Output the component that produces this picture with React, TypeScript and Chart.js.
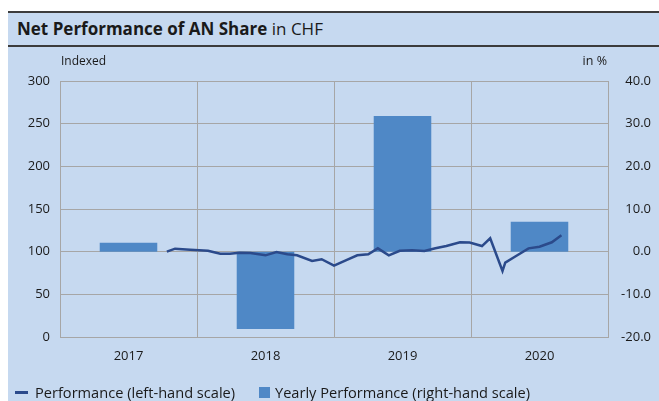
import React, { useEffect, useRef } from "react";
import { Chart, registerables } from "chart.js";

Chart.register(...registerables);

// ---- Data ----
const years = ["2017", "2018", "2019", "2020"];
const yearlyPerformance = [2.1, -18.1, 31.8, 7.0];

// time position in years since start of 2017
const perfTime = [
  0.78, 0.84, 0.95, 1.08, 1.17, 1.24, 1.31, 1.39, 1.5, 1.58, 1.66, 1.73,
  1.84, 1.91, 2.0, 2.09, 2.17, 2.25, 2.32, 2.4, 2.48, 2.57, 2.66, 2.74,
  2.82, 2.92, 2.99, 3.08, 3.14, 3.23, 3.25, 3.32, 3.42, 3.5, 3.59, 3.66,
];
const perfIndex = [
  100.0, 103.5, 102.3, 101.1, 97.5, 97.5, 98.8, 98.5, 95.7, 99.6, 96.9, 95.7,
  89.1, 91.1, 83.6, 90.2, 95.7, 96.9, 103.9, 95.7, 101.1, 101.6, 100.8, 103.9,
  106.6, 111.0, 110.7, 106.6, 115.7, 77.3, 87.1, 94.1, 103.9, 105.8, 111.0, 119.2,
];

const leftMin = 0;
const leftMax = 300;
const leftStep = 50;
const rightMin = -20;
const rightMax = 40;
const rightStep = 10;

const titleBold = "Net Performance of AN Share";
const titleRest = "in CHF";
const leftAxisTitle = "Indexed";
const rightAxisTitle = "in %";
const lineLabel = "Performance (left-hand scale)";
const barLabel = "Yearly Performance (right-hand scale)";

// ---- Styles ----
const FONT = "'Open Sans', sans-serif";
const BG = "#c6d9f0";
const BAR = "#4f88c6";
const LINE = "#2b4a8b";
const GRID = "#a6a6a6";
const TEXT = "#1a1a1a";

export default function App() {
  const canvasRef = useRef<HTMLCanvasElement | null>(null);

  useEffect(() => {
    const canvas = canvasRef.current;
    if (!canvas) return;
    const chart = new Chart(canvas, {
      type: "bar",
      data: {
        labels: years,
        datasets: [
          {
            type: "line",
            label: lineLabel,
            data: perfTime.map((t, i) => ({ x: t, y: perfIndex[i] })),
            xAxisID: "xLine",
            yAxisID: "y",
            borderColor: LINE,
            borderWidth: 2.5,
            pointRadius: 0,
            tension: 0,
            order: 0,
          } as any,
          {
            type: "bar",
            label: barLabel,
            data: yearlyPerformance,
            xAxisID: "x",
            yAxisID: "yRight",
            backgroundColor: BAR,
            borderWidth: 0,
            grouped: false,
            barPercentage: 0.42,
            categoryPercentage: 1,
            order: 1,
          } as any,
        ],
      },
      options: {
        responsive: false,
        animation: false,
        layout: { padding: { top: 34, left: 0, right: 8, bottom: 0 } },
        plugins: {
          legend: { display: false },
          tooltip: { enabled: false },
        },
        scales: {
          x: {
            type: "category",
            position: "bottom",
            offset: true,
            grid: { offset: true, color: GRID, drawTicks: false, lineWidth: 1 },
            border: { color: GRID },
            ticks: { padding: 11, color: TEXT, font: { family: FONT, size: 13 } },
            afterFit: (s: any) => {
              s.height = 40;
            },
          },
          xLine: {
            type: "linear",
            position: "bottom",
            min: 0,
            max: 4,
            offset: false,
            grid: { offset: false },
            display: false,
          },
          y: {
            type: "linear",
            position: "left",
            min: leftMin,
            max: leftMax,
            ticks: {
              stepSize: leftStep,
              padding: 10,
              color: TEXT,
              font: { family: FONT, size: 13 },
            },
            grid: { color: GRID, drawTicks: false },
            border: { color: GRID },
            afterFit: (s: any) => {
              s.width = 52;
            },
          },
          yRight: {
            type: "linear",
            position: "right",
            min: rightMin,
            max: rightMax,
            ticks: {
              stepSize: rightStep,
              padding: 5,
              crossAlign: "far",
              color: TEXT,
              font: { family: FONT, size: 13 },
              callback: (v: any) => Number(v).toFixed(1),
            },
            grid: { display: false, drawTicks: false },
            border: { display: true, color: GRID },
            afterFit: (s: any) => {
              s.width = 43;
            },
          },
        },
      } as any,
    });
    return () => chart.destroy();
  }, []);

  return (
    <div
      style={{
        position: "fixed",
        left: 8,
        top: 11,
        right: 0,
        bottom: 0,
        background: BG,
        fontFamily: FONT,
        color: TEXT,
      }}
    >
      <div
        style={{
          borderTop: "2px solid #3c3c3c",
          borderBottom: "2px solid #3c3c3c",
          height: 32,
          lineHeight: "32px",
          paddingLeft: 9,
          fontSize: 17,
          whiteSpace: "nowrap",
        }}
      >
        <span style={{ fontWeight: 700 }}>{titleBold}</span>
        <span> {titleRest}</span>
      </div>
      <canvas
        ref={canvasRef}
        width={651}
        height={330}
        style={{ position: "absolute", left: 0, top: 36, width: 651, height: 330 }}
      />
      <div
        style={{
          position: "absolute",
          left: 53,
          top: 42,
          fontSize: 12,
          lineHeight: "16px",
          whiteSpace: "nowrap",
        }}
      >
        {leftAxisTitle}
      </div>
      <div
        style={{
          position: "absolute",
          left: 540,
          width: 59,
          top: 42,
          fontSize: 12.5,
          lineHeight: "16px",
          textAlign: "right",
          whiteSpace: "nowrap",
        }}
      >
        {rightAxisTitle}
      </div>
      <div
        style={{
          position: "absolute",
          left: 0,
          top: 372,
          height: 18,
          fontSize: 14.6,
          lineHeight: "18px",
          whiteSpace: "nowrap",
        }}
      >
        <span
          style={{
            position: "absolute",
            left: 7,
            top: 8,
            width: 13,
            height: 3,
            background: LINE,
          }}
        />
        <span style={{ position: "absolute", left: 27, top: 0 }}>{lineLabel}</span>
        <span
          style={{
            position: "absolute",
            left: 251,
            top: 4,
            width: 11,
            height: 11,
            background: BAR,
          }}
        />
        <span style={{ position: "absolute", left: 267, top: 0 }}>{barLabel}</span>
      </div>
    </div>
  );
}
